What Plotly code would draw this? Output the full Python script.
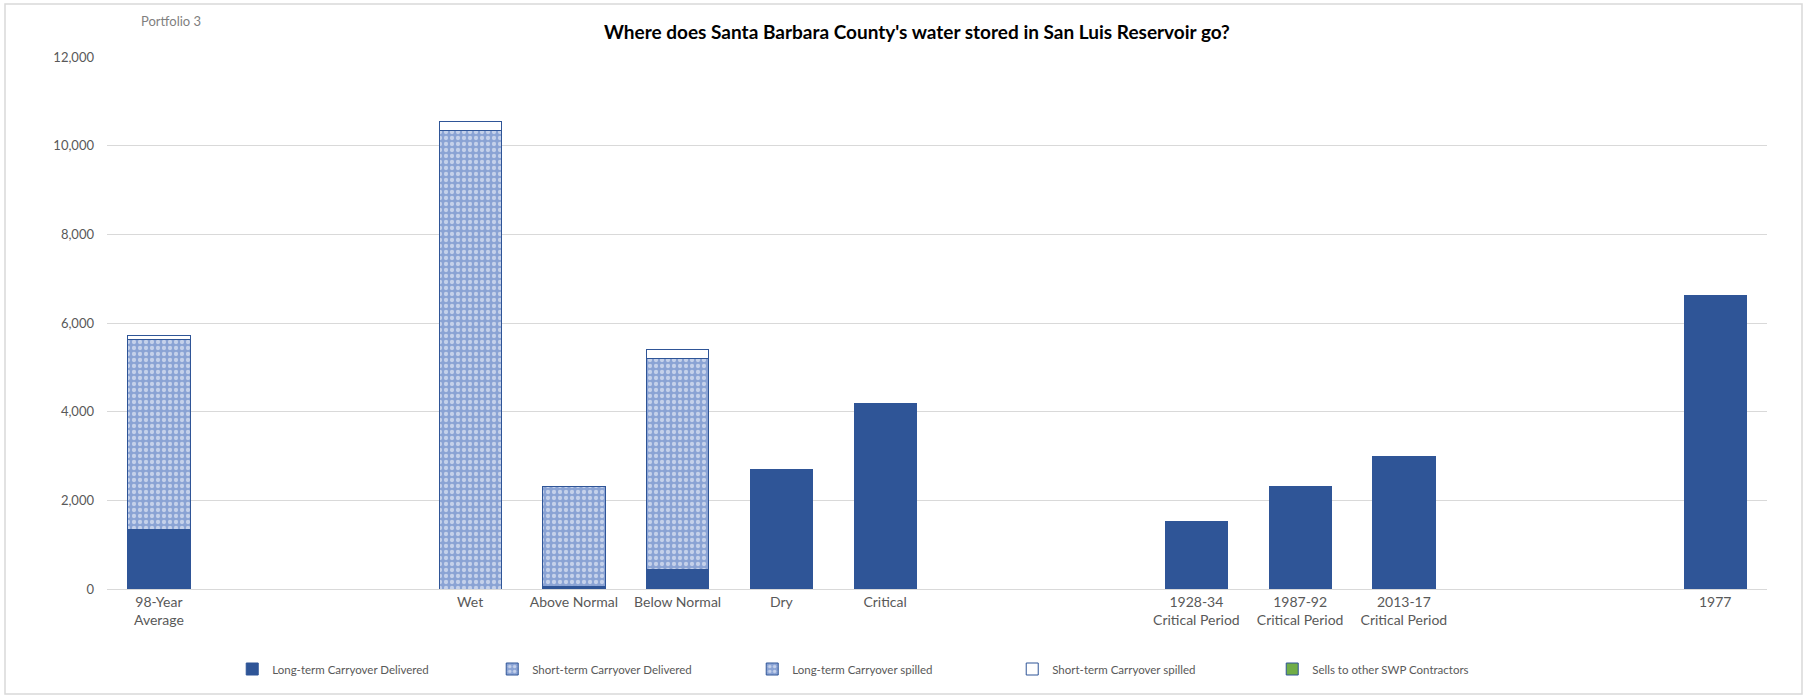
import plotly.graph_objects as go

# category slots (blank slots leave the gaps seen in the original chart)
categories = [
    "98-Year Average", "gap1", "gap2", "Wet", "Above Normal", "Below Normal",
    "Dry", "Critical", "gap3", "gap4", "1928-34", "1987-92", "2013-17",
    "gap5", "gap6", "1977",
]
tick_labels = [
    "98-Year<br>Average", "", "", "Wet", "Above Normal", "Below Normal",
    "Dry", "Critical", "", "", "1928-34<br>Critical Period",
    "1987-92<br>Critical Period", "2013-17<br>Critical Period", "", "", "1977",
]

lt_delivered = [1350, None, None, 0, 60, 440, 2690, 4190, None, None, 1530, 2320, 2980, None, None, 6610]
st_delivered = [4280, None, None, 10340, 2260, 4770, 0, 0, None, None, 0, 0, 0, None, None, 0]
lt_spilled = [0, None, None, 0, 0, 0, 0, 0, None, None, 0, 0, 0, None, None, 0]
st_spilled = [90, None, None, 200, 0, 200, 0, 0, None, None, 0, 0, 0, None, None, 0]
sells_swp = [0, None, None, 0, 0, 0, 0, 0, None, None, 0, 0, 0, None, None, 0]

DARK_BLUE = "#2F5597"
PATTERN_BG = "#8AA3D4"
FONT = "Lato"
GRAY_TEXT = "#595959"
GRID = "#D9D9D9"

fig = go.Figure()


def add_bar(values, name, color, pattern=None):
    marker = dict(color=color, line=dict(color=DARK_BLUE, width=1))
    if pattern:
        marker["pattern"] = dict(shape=".", fgcolor="white", bgcolor=PATTERN_BG,
                                 size=6, solidity=0.4, fillmode="overlay")
    fig.add_trace(go.Bar(x=categories, y=values, name=name, marker=marker))


add_bar(lt_delivered, "Long-term Carryover Delivered", DARK_BLUE)
add_bar(st_delivered, "Short-term Carryover Delivered", PATTERN_BG, pattern=True)
add_bar(lt_spilled, "Long-term Carryover spilled", PATTERN_BG, pattern=True)
add_bar(st_spilled, "Short-term Carryover spilled", "white")
add_bar(sells_swp, "Sells to other SWP Contractors", "#70AD47")

plot_l, plot_r, plot_t, plot_b = 107, 1767, 57, 589
pw, ph = plot_r - plot_l, plot_b - plot_t

fig.update_layout(
    barmode="stack",
    bargap=0.4,
    width=1813,
    height=696,
    margin=dict(l=plot_l, r=1813 - plot_r, t=plot_t, b=696 - plot_b),
    paper_bgcolor="white",
    plot_bgcolor="white",
    font=dict(family=FONT, size=13, color=GRAY_TEXT),
    xaxis=dict(
        type="category",
        tickvals=categories,
        ticktext=tick_labels,
        showgrid=False,
        showline=True,
        linecolor=GRID,
        ticks="",
        automargin=False,
        ticklabelstandoff=0,
        tickfont=dict(family=FONT, size=14, color=GRAY_TEXT),
    ),
    yaxis=dict(
        range=[0, 12000],
        dtick=2000,
        tickformat=",",
        showgrid=True,
        gridcolor=GRID,
        zeroline=False,
        ticks="",
        automargin=False,
        ticklabelstandoff=12,
        tickfont=dict(family=FONT, size=13, color=GRAY_TEXT),
    ),
    legend=dict(
        orientation="h",
        traceorder="normal",
        x=0.467,
        xanchor="center",
        y=(plot_b - 669) / ph,
        yanchor="middle",
        font=dict(family=FONT, size=11.5, color=GRAY_TEXT),
        itemwidth=30,
        entrywidth=215,
        entrywidthmode="pixels",
    ),
    showlegend=True,
)

fig.add_annotation(
    text="<b>Where does Santa Barbara County's water stored in San Luis Reservoir go?</b>",
    xref="paper", yref="paper",
    x=(917 - plot_l) / pw, y=(plot_b - 32) / ph,
    xanchor="center", yanchor="middle", showarrow=False,
    font=dict(family=FONT, size=19, color="black"),
)
fig.add_annotation(
    text="Portfolio 3",
    xref="paper", yref="paper",
    x=(139 - plot_l) / pw, y=(plot_b - 21) / ph,
    xanchor="left", yanchor="middle", showarrow=False,
    font=dict(family=FONT, size=13, color="#7F7F7F"),
)

# light frame around the whole chart area
fig.add_shape(
    type="rect", xref="paper", yref="paper",
    x0=(5 - plot_l) / pw, x1=(1802 - plot_l) / pw,
    y0=(plot_b - 694) / ph, y1=(plot_b - 4) / ph,
    line=dict(color=GRID, width=1.5), layer="below",
)

# drop the browser's default page margin so the figure sits at the window's origin
fig.write_html(
    "out.html",
    config={"displayModeBar": False},
    post_script="document.body.style.margin='0';",
)
